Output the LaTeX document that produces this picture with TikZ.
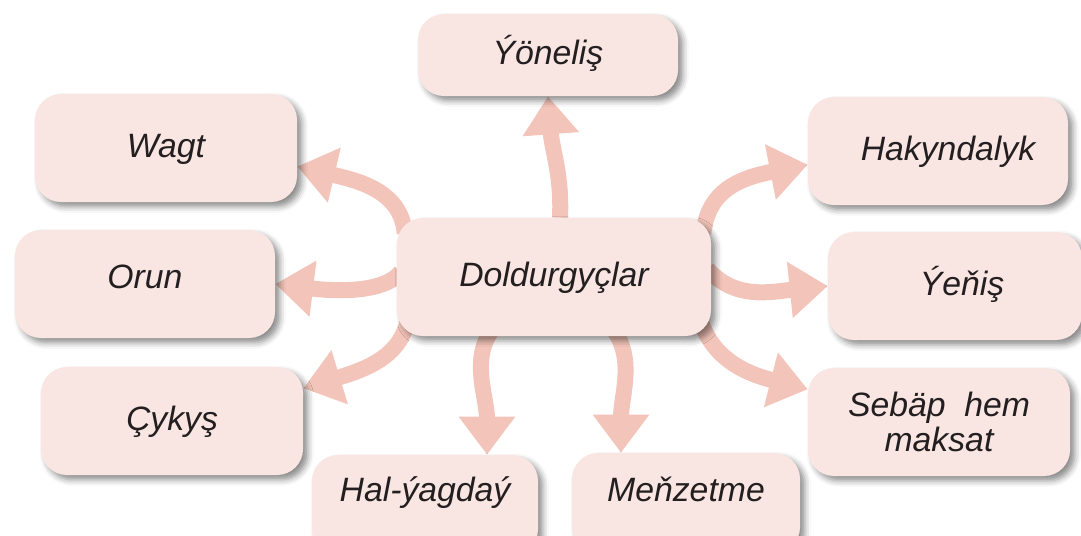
\documentclass[tikz,border=0pt]{standalone}
\usepackage{fontspec}
\setmainfont{Liberation Sans}
\usetikzlibrary{arrows.meta,backgrounds,shadows.blur}
\definecolor{boxpink}{HTML}{F9E5E1}
\definecolor{arrowpink}{HTML}{F3C4B9}
\definecolor{inkgray}{HTML}{231F20}

\begin{document}
\begin{tikzpicture}[x=0.025cm,y=-0.025cm]
\tikzstyle{word}=[rectangle,rounded corners=0.65cm,fill=boxpink,text=inkgray,font=\fontsize{24}{25}\selectfont\itshape,minimum width=6.55cm,minimum height=2.7cm,text height=0.6cm,text depth=0.15cm,blur shadow={shadow xshift=0.12cm,shadow yshift=-0.12cm,shadow blur radius=0.15cm,shadow opacity=45}]
\tikzstyle{bigarrow}=[arrowpink,line width=0.4cm,-{Triangle[width=1.35cm,length=0.95cm]}]
\useasboundingbox (0,0) rectangle (1081,535);

\node[word,minimum width=6.5cm,minimum height=2.05cm](yoneli) at (548,55) {Ýöneliş};
\node[word](wagt) at (166,148) {Wagt};
\node[word,minimum width=6.5cm,text depth=0.4cm](orun) at (145,284) {Orun};
\node[word](cykys) at (172,421) {Çykyş};
\node[word,minimum width=7.85cm,minimum height=2.95cm](mid) at (554,277) {Doldurgyçlar};
\node[word,minimum width=6.5cm](hak) at (938,151) {\hspace{0.5cm}Hakyndalyk};
\node[word,minimum width=6.35cm](yen) at (955,286) {\hspace{0.35cm}Ýeňiş};
\node[word,align=center,text height=,text depth=](seb) at (939,422) {Sebäp\ \ hem\\maksat};
\node[word,minimum width=5.65cm,minimum height=2.5cm,text depth=0.8cm](hal) at (425,505) {Hal-ýagdaý};
\node[word,minimum width=5.7cm,minimum height=2.5cm,text depth=0.7cm](menz) at (686,503) {Meňzetme};

% arrows go behind the boxes
\begin{scope}[on background layer]
\draw[bigarrow] ([xshift=0.15cm]mid.north) .. controls (562,175) and (552,150) .. (yoneli.south);
\draw[bigarrow] ([xshift=0.2cm,yshift=-0.4cm]mid.north west) .. controls (402,190) and (355,180) .. (wagt.-8);
\draw[bigarrow] ([xshift=0.1cm,yshift=0.12cm]mid.west) .. controls (385,292) and (340,292) .. (orun.east);
\draw[bigarrow] ([xshift=0.3cm,yshift=0.5cm]mid.south west) .. controls (402,355) and (370,368) .. (cykys.14);
\draw[bigarrow] ([xshift=-1.43cm,yshift=0.3cm]mid.south) .. controls (468,355) and (487,395) .. ([xshift=1.55cm]hal.north);
\draw[bigarrow] ([xshift=1.38cm,yshift=0.3cm]mid.south) .. controls (637,355) and (621,395) .. ([xshift=-1.625cm]menz.north);
\draw[bigarrow] ([xshift=-0.2cm,yshift=-0.4cm]mid.north east) .. controls (708,190) and (740,178) .. (hak.186);
\draw[bigarrow] ([xshift=-0.1cm,yshift=0.2cm]mid.east) .. controls (735,300) and (770,292) .. (yen.west);
\draw[bigarrow] ([xshift=-0.3cm,yshift=0.5cm]mid.south east) .. controls (710,355) and (740,372) .. (seb.166);
\end{scope}
\end{tikzpicture}
\end{document}
